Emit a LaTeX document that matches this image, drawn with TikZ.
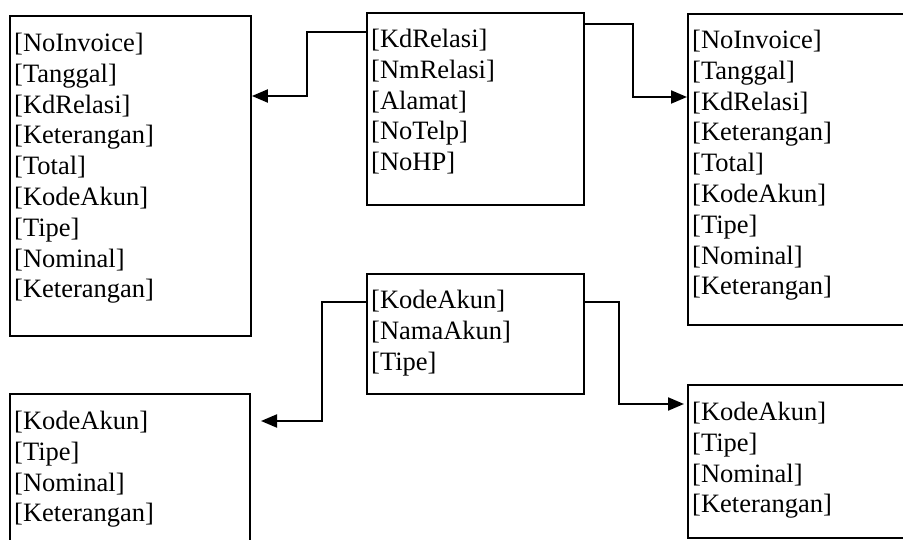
\documentclass[tikz,border=0pt]{standalone}
\usepackage{fontspec}
\setmainfont{Liberation Serif}
\usepackage{tikz}
\usetikzlibrary{arrows.meta, calc, positioning}
\tikzset{
>={Triangle[length=16pt,width=13pt]}, % filled arrow heads
tbl/.style={draw, line width=1.9pt, anchor=north west, inner sep=0pt}, % table frame
fields/.style={anchor=north west, inner sep=0pt, align=left,
  font=\fontsize{26.5}{30.8}\selectfont}, % field list inside a frame
link/.style={line width=2pt, ->},
}

\begin{document}
\begin{tikzpicture}[x=1pt,y=-1pt]
  \useasboundingbox (0,0) rectangle (903,540);

  % frames
  \node[tbl, minimum width=241pt, minimum height=320pt] (trxL) at (9,15) {};
  \node[tbl, minimum width=217pt, minimum height=192pt] (relasi) at (366,12) {};
  \node[tbl, minimum width=230pt, minimum height=311pt] (trxR) at (687,13) {};
  \node[tbl, minimum width=217pt, minimum height=120pt] (akun) at (366,273) {};
  \node[tbl, minimum width=240pt, minimum height=180pt] (detL) at (9,393) {};
  \node[tbl, minimum width=230pt, minimum height=153pt] (detR) at (687,384) {};

  % fields
  \node[fields] (trxL-f) at ($(trxL.north west)+(5,18)$)
    {[NoInvoice]\\[0pt][Tanggal]\\[0pt][KdRelasi]\\[0pt][Keterangan]\\[0pt][Total]\\[0pt][KodeAkun]\\[0pt][Tipe]\\[0pt][Nominal]\\[0pt][Keterangan]};
  \node[fields] (relasi-f) at ($(relasi.north west)+(5,17)$)
    {[KdRelasi]\\[0pt][NmRelasi]\\[0pt][Alamat]\\[0pt][NoTelp]\\[0pt][NoHP]};
  \node[fields] (trxR-f) at ($(trxR.north west)+(5,17)$)
    {[NoInvoice]\\[0pt][Tanggal]\\[0pt][KdRelasi]\\[0pt][Keterangan]\\[0pt][Total]\\[0pt][KodeAkun]\\[0pt][Tipe]\\[0pt][Nominal]\\[0pt][Keterangan]};
  \node[fields] (akun-f) at ($(akun.north west)+(5,17)$)
    {[KodeAkun]\\[0pt][NamaAkun]\\[0pt][Tipe]};
  \node[fields] (detL-f) at ($(detL.north west)+(5,18)$)
    {[KodeAkun]\\[0pt][Tipe]\\[0pt][Nominal]\\[0pt][Keterangan]};
  \node[fields] (detR-f) at ($(detR.north west)+(5,18)$)
    {[KodeAkun]\\[0pt][Tipe]\\[0pt][Nominal]\\[0pt][Keterangan]};

  % links
  \coordinate (detL-in) at (261,421);
  \draw[link] (relasi.north west |- 0,32) -| (307,64) |- (trxL.east |- 0,96);
  \draw[link] (relasi.north east |- 0,24) -| (633,64) |- (trxR.west |- 0,97);
  \draw[link] (akun.north west |- 0,302) -| (322,360) |- (detL-in);
  \draw[link] (akun.north east |- 0,302) -| (619,360) |- ($(detR.west |- 0,404)+(-3,0)$);
\end{tikzpicture}
\end{document}
